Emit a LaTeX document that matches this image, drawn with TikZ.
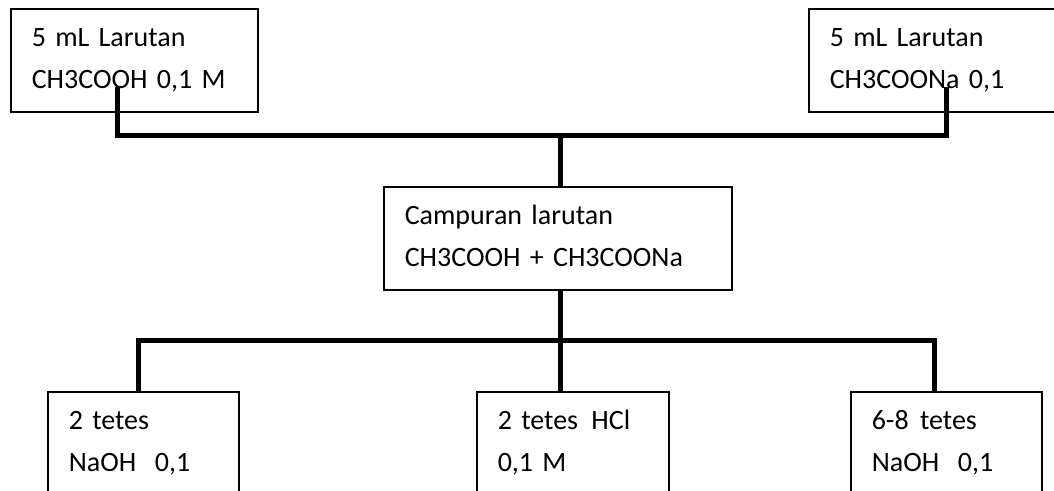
\documentclass[tikz,border=0pt]{standalone}
\usepackage{fontspec}
\setmainfont{Carlito}

\begin{document}
\begin{tikzpicture}[x=1pt, y=-1pt,
  kotak/.style={draw, line width=1.5pt, anchor=north west, align=left,
    inner xsep=21pt, inner ysep=0pt, text height=38pt, text depth=65pt,
    font=\fontsize{28}{41.5}\selectfont},
  garis/.style={line width=5pt}]
  \useasboundingbox (0,0) rectangle (1054,490);
  \clip (0,0) rectangle (1054,490);

  % Larutan awal
  \node[kotak, text width=205pt] (asam) at (10,8) {5 mL Larutan\\CH3COOH 0,1 M};
  \node[kotak, text width=214pt] (garam) at (808,8) {5 mL Larutan\\CH3COONa 0,1};

  % Campuran
  \node[kotak, text width=306pt] (campur) at (383,186) {Campuran larutan\\CH3COOH + CH3COONa};

  % Penambahan
  \node[kotak, text width=149pt, text depth=92pt] (basa1) at (47,391) {2 tetes\\NaOH\ \ 0,1};
  \node[kotak, text width=150pt, text depth=92pt] (asam2) at (476,391) {2 tetes\hspace{4pt} HCl\\0,1 M};
  \node[kotak, text width=149pt, text depth=92pt] (basa2) at (850,391) {6-8\hspace{2pt} tetes\\NaOH\ \ 0,1};

  % Garis penghubung
  \coordinate (ujung1) at (117,87);
  \coordinate (ujung2) at (946,87);
  \coordinate (atas) at (560,135);
  \coordinate (bawah) at (560,340);
  \draw[garis] (ujung1) |- (atas) -| (ujung2);
  \draw[garis] (atas) -- (atas |- campur.north);
  \draw[garis] (atas |- campur.south) -- (bawah);
  \draw[garis] ([xshift=91pt]basa1.north west) |- (bawah) -| ([xshift=84pt]basa2.north west);
  \draw[garis] (bawah) -- (bawah |- asam2.north);
\end{tikzpicture}
\end{document}
